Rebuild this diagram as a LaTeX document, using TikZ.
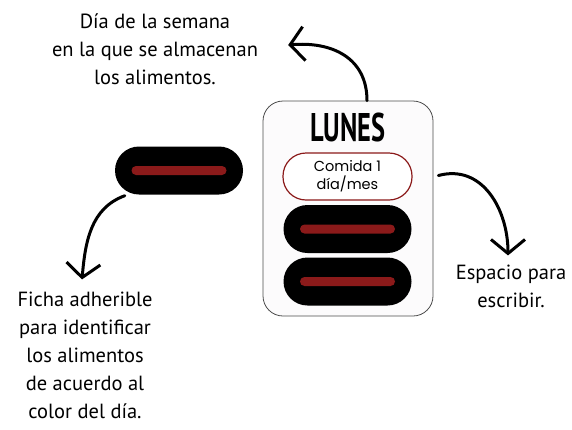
\documentclass[tikz,border=0pt]{standalone}
\usepackage{fontspec}
\setmainfont{PT Sans}
\newfontfamily\manoletra{Poppins}
\usetikzlibrary{arrows.meta,calc,positioning}
\definecolor{rojo}{HTML}{8B1A1A}
\definecolor{fondo}{HTML}{FCFBFC}
\tikzset{
>={Straight Barb[length=14pt,width=34pt]},
caja/.style={draw=black!70,fill=fondo,rounded corners=20pt,line width=0.8pt,minimum width=170pt,minimum height=215pt},
ficha/.style={fill=black,rounded corners=24pt,minimum width=128pt,minimum height=48pt,inner sep=0pt},
barra/.style={fill=rojo,rounded corners=4.5pt,minimum width=95pt,minimum height=9pt,inner sep=0pt},
comida/.style={draw=rojo,fill=white,line width=1.2pt,rounded corners=23pt,minimum width=129pt,minimum height=47pt,align=center,font=\manoletra\fontsize{14.5}{18}\selectfont},
texto/.style={align=center,font=\fontsize{20.5}{28}\selectfont,inner sep=0pt},
flecha/.style={->,line width=3pt,line cap=round}}

\begin{document}
\begin{tikzpicture}[x=1pt,y=1pt]
\useasboundingbox (0,0) rectangle (572,-429);

% caja del dia
\node[caja] (caja) at (348,-208.5) {};
\node[font=\bfseries\fontsize{40}{40}\selectfont] (lunes) at (348,-127) {\scalebox{0.66}[1]{LUNES}};
\node[comida] (comida) at (347.5,-176.5) {Comida 1\\día/mes};
\node[ficha] (f1) at (347.5,-229) {};
\node[ficha] (f2) at (347.5,-281.5) {};
\node[barra] at (f1) {};
\node[barra] at (f2) {};

% ficha suelta
\node[ficha] (ficha) at (179,-170.5) {};
\node[barra] at (ficha) {};

% textos
\node[texto] (dia) at (155,-49) {Día de la semana\\en la que se almacenan\\los alimentos.};
\node[texto] (espacio) at (511,-286) {Espacio para\\escribir.};
\node[texto] (adherible) at (85,-355) {Ficha adherible\\para identificar\\los alimentos\\de acuerdo al\\color del día.};

% flechas
\draw[flecha] ($(caja.north)+(19,0)$) to[out=90,in=5,looseness=1.15] ($(dia.east)+(30,4)$);
\draw[flecha] ($(caja.east)+(5,33)$) to[out=15,in=90,looseness=1.1] ($(espacio.north)+(-3,9)$);
\draw[flecha] ($(ficha.south west)+(10,-1)$) to[out=200,in=85] ($(adherible.north)+(-3,12)$);
\end{tikzpicture}
\end{document}
